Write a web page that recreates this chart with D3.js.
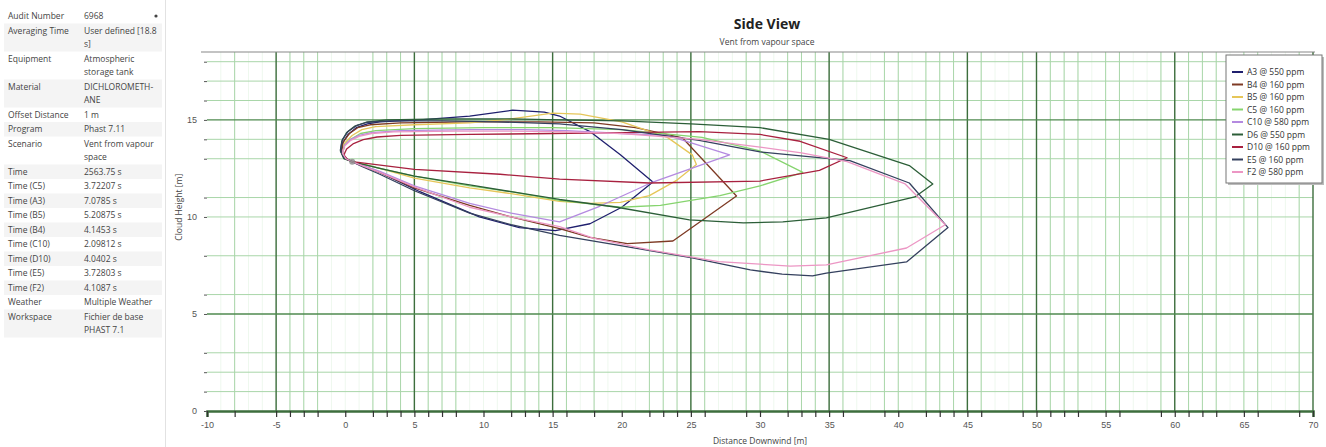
<!DOCTYPE html>
<html>
<head>
<meta charset="utf-8">
<script src="https://cdn.jsdelivr.net/npm/d3@7"></script>
<style>
  html, body { margin: 0; padding: 0; background: #fff; }
  svg { display: block; font-family: "Open Sans", "DejaVu Sans", sans-serif; }
</style>
</head>
<body>
<svg id="chart" width="1326" height="447"></svg>
<script>
// ---- Scenario properties (left panel) ----
const propertyLabels = ["Audit Number", "Averaging Time", "Equipment", "Material", "Offset Distance",
  "Program", "Scenario", "Time", "Time (C5)", "Time (A3)", "Time (B5)", "Time (B4)", "Time (C10)",
  "Time (D10)", "Time (E5)", "Time (F2)", "Weather", "Workspace"];
const propertyValues = [["6968"], ["User defined [18.8", "s]"], ["Atmospheric", "storage tank"],
  ["DICHLOROMETH-", "ANE"], ["1 m"], ["Phast 7.11"], ["Vent from vapour", "space"], ["2563.75 s"],
  ["3.72207 s"], ["7.0785 s"], ["5.20875 s"], ["4.1453 s"], ["2.09812 s"], ["4.0402 s"],
  ["3.72803 s"], ["4.1087 s"], ["Multiple Weather"], ["Fichier de base", "PHAST 7.1"]];

// ---- Axis ticks ----
const xTickLabels = [-10, -5, 0, 5, 10, 15, 20, 25, 30, 35, 40, 45, 50, 55, 60, 65, 70];
const yTickLabels = [0, 5, 10, 15];
const xMajorGrid = [-5, 5, 15, 25, 35, 45, 50, 60, 70];
const xMinorGrid = [-8, -4, -3, -2, 2, 3, 4, 6, 7, 8, 12, 13, 14, 16, 18, 22, 23, 24, 26, 29, 30, 32, 33, 34, 36,
  39, 40, 42, 43, 44, 46, 49, 51, 52, 53, 55, 56, 59, 61, 62, 63, 65, 66, 69];
const yMajorGrid = [5, 15];
const yMinorGrid = [1, 2, 3, 6, 8, 10, 11, 13, 14, 16, 17, 18];

// ---- Cloud outlines: [distance downwind (m), cloud height (m)] ----
const seriesNames = ["A3 @ 550 ppm", "B4 @ 160 ppm", "B5 @ 160 ppm", "C5 @ 160 ppm", "C10 @ 580 ppm",
  "D6 @ 550 ppm", "D10 @ 160 ppm", "E5 @ 160 ppm", "F2 @ 580 ppm"];
const seriesColors = ["#1f1f6e", "#7e3a24", "#e6c659", "#86d46e", "#b48ae0", "#2c5e38", "#a8213f", "#34405e", "#ec96c4"];

const cloudA3 = [[0.5,12.85],[-0.05,13.0],[-0.3,13.35],[-0.2,13.8],[0.2,14.25],[0.8,14.6],[1.6,14.8],[2.5,14.9],
  [5.4,15.0],[9.0,15.2],[12.1,15.5],[14.4,15.4],[15.5,15.2],[17.7,14.4],[19.9,13.2],[22.25,11.8],[20.0,10.5],
  [17.7,9.65],[15.2,9.3],[12.6,9.45],[9.7,10.0],[5.4,11.3],[2.5,12.3],[1.2,12.65],[0.5,12.85]];
const cloudB4 = [[0.5,12.85],[0.0,13.0],[-0.25,13.35],[-0.15,13.85],[0.3,14.3],[0.9,14.6],[1.8,14.75],[4,14.85],
  [9,14.9],[14,14.9],[18,14.85],[21,14.6],[24.4,14.07],[28.3,11.08],[23.7,8.76],[20.4,8.62],[17.7,8.95],
  [15.5,9.4],[12,10.0],[9,10.6],[5,11.5],[2.5,12.3],[1.2,12.65],[0.5,12.85]];
const cloudB5 = [[0.5,12.85],[0.05,13.0],[-0.2,13.3],[-0.05,13.8],[0.5,14.2],[1.2,14.5],[2.2,14.65],[5,14.75],
  [9,14.85],[12,15.05],[15,15.35],[17,15.3],[20,14.9],[23.3,14.1],[25.1,13.2],[25.4,12.7],[24,11.9],[22,11.1],
  [19.9,10.75],[17.7,10.7],[15.5,10.8],[12,11.2],[9,11.5],[5,12.0],[2.5,12.5],[0.5,12.85]];
const cloudC5 = [[0.5,12.85],[0.05,13.0],[-0.2,13.25],[-0.05,13.7],[0.4,14.0],[1.1,14.3],[2.2,14.45],[5,14.55],
  [10,14.6],[15,14.6],[20,14.5],[25.8,14.1],[30,13.4],[33.1,12.3],[30,11.6],[27.1,11.1],[22.8,10.6],
  [19.9,10.5],[15.5,10.85],[12,11.3],[9,11.6],[5,12.1],[2.5,12.5],[0.5,12.85]];
const cloudC10 = [[0.5,12.85],[0.05,13.0],[-0.2,13.3],[-0.05,13.7],[0.4,14.0],[1.0,14.2],[1.9,14.35],[4,14.45],
  [9,14.5],[13,14.5],[16,14.45],[20,14.3],[23.3,14.2],[27.8,13.2],[22.25,11.8],[18.4,10.55],[15.5,9.75],
  [12,10.2],[9,10.7],[5,11.6],[2.5,12.35],[0.5,12.85]];
const cloudD6 = [[0.5,12.85],[-0.1,13.0],[-0.35,13.4],[-0.25,13.9],[0.1,14.35],[0.7,14.68],[1.5,14.88],[3,15.0],
  [7,15.05],[12,15.05],[15.5,15.0],[20,14.95],[25,14.8],[30,14.6],[35,14.0],[40.8,12.65],[42.5,11.7],
  [41.2,11.03],[34.8,9.95],[31.65,9.75],[28.8,9.69],[24.9,9.85],[19.65,10.5],[15.5,10.9],[12,11.3],[9,11.65],
  [5,12.1],[2.5,12.5],[0.5,12.85]];
const cloudD10 = [[0.5,12.85],[0.15,12.98],[-0.1,13.2],[0.1,13.5],[0.6,13.78],[1.3,13.98],[2.3,14.12],[4,14.2],
  [9,14.25],[15,14.3],[20,14.35],[25.6,14.4],[30,14.25],[32.9,13.9],[36.3,13.05],[34.3,12.4],[30,11.85],
  [22,11.75],[15.5,11.95],[11.2,12.2],[5,12.45],[0.5,12.85]];
const cloudE5 = [[0.5,12.85],[-0.1,13.05],[-0.35,13.45],[-0.2,14.0],[0.2,14.4],[0.8,14.7],[1.6,14.88],[3.2,14.95],
  [7,14.95],[11,14.9],[15.5,14.8],[20,14.5],[25.6,13.95],[30,13.35],[36.5,12.9],[40.8,11.75],[43.6,9.45],
  [40.6,7.68],[34.8,7.11],[33.8,6.96],[31.6,7.05],[29.3,7.27],[25.1,7.89],[19.6,8.56],[15.5,9.05],[12,9.6],
  [9,10.2],[5,11.35],[2.5,12.2],[1.2,12.6],[0.5,12.85]];
const cloudF2 = [[0.5,12.85],[0.05,13.0],[-0.2,13.28],[-0.05,13.65],[0.4,13.95],[1.0,14.15],[1.9,14.3],[3.5,14.38],
  [8,14.42],[12,14.42],[15.5,14.4],[20,14.3],[25.6,14.0],[30,13.6],[33,13.3],[36.3,12.85],[40.5,11.7],
  [43.4,9.6],[40.6,8.4],[34.8,7.53],[32.2,7.47],[27,7.7],[22,8.3],[18,8.9],[15.5,9.5],[12,10.0],[9,10.5],
  [5,11.55],[2.5,12.3],[1.2,12.65],[0.5,12.85]];
const cloudOutlines = [cloudA3, cloudB4, cloudB5, cloudC5, cloudC10, cloudD6, cloudD10, cloudE5, cloudF2];
const sourcePoint = [0.5, 12.85];

const svg = d3.select("#chart");

// ---- Left properties panel ----
const panel = svg.append("g").attr("class", "properties");
let rowY = 10;
propertyLabels.forEach((label, i) => {
  const lines = propertyValues[i];
  const h = 13.5 * lines.length + 1;
  if (i % 2 === 1) {
    panel.append("rect").attr("x", 4).attr("y", rowY - 1).attr("width", 158).attr("height", h)
      .attr("fill", "#f4f4f4");
  }
  panel.append("text").attr("x", 8).attr("y", rowY + 9).attr("font-size", 8.5).attr("fill", "#444")
    .text(label);
  lines.forEach((v, k) => {
    panel.append("text").attr("x", 84).attr("y", rowY + 9 + k * 13).attr("font-size", 8.5).attr("fill", "#444")
      .text(v);
  });
  rowY += h;
});
panel.append("circle").attr("cx", 156).attr("cy", 16).attr("r", 1.6).attr("fill", "#444");
panel.append("line").attr("x1", 165.5).attr("x2", 165.5).attr("y1", 0).attr("y2", 447)
  .attr("stroke", "#e2e2e2");

// ---- Plot ----
const x = d3.scaleLinear().domain([-10, 70]).range([207, 1313]);
const y = d3.scaleLinear().domain([0, 18.5]).range([411, 52]);

const grid = svg.append("g").attr("class", "grid");
// faint lines at every metre
d3.range(-9, 70).forEach(v => {
  grid.append("line").attr("x1", x(v)).attr("x2", x(v)).attr("y1", y(18.5)).attr("y2", y(0))
    .attr("stroke", "#eef8ee").attr("stroke-width", 1);
});
xMinorGrid.forEach(v => {
  grid.append("line").attr("x1", x(v)).attr("x2", x(v)).attr("y1", y(18.5)).attr("y2", y(0))
    .attr("stroke", "#a9d6a9").attr("stroke-width", 1);
});
yMinorGrid.forEach(v => {
  grid.append("line").attr("x1", x(-10)).attr("x2", x(70)).attr("y1", y(v)).attr("y2", y(v))
    .attr("stroke", "#a9d6a9").attr("stroke-width", 1);
});
xMajorGrid.forEach(v => {
  grid.append("line").attr("x1", x(v)).attr("x2", x(v)).attr("y1", y(18.5)).attr("y2", y(0))
    .attr("stroke", "#3d6e3d").attr("stroke-width", 1.4);
});
yMajorGrid.forEach(v => {
  grid.append("line").attr("x1", x(-10)).attr("x2", x(70)).attr("y1", y(v)).attr("y2", y(v))
    .attr("stroke", "#4f8a4f").attr("stroke-width", 1.4);
});
// top border
svg.append("line").attr("x1", x(-10) - 6).attr("x2", x(70) + 2).attr("y1", y(18.5)).attr("y2", y(18.5))
  .attr("stroke", "#888").attr("stroke-width", 1.2);

// axes
const xTickValues = Array.from(new Set(xTickLabels.concat(xMinorGrid))).sort((a, b) => a - b);
const xAxis = d3.axisBottom(x)
  .tickValues(xTickValues)
  .tickSize(6)
  .tickFormat(d => xTickLabels.includes(d) ? d : "");
const gx = svg.append("g").attr("transform", `translate(0,${y(0)})`).call(xAxis);
gx.select(".domain").attr("stroke", "#3d6e3d").attr("stroke-width", 2.5);
gx.selectAll(".tick line").attr("stroke", "#333").attr("stroke-width", 1.2);
gx.selectAll(".tick text").attr("font-size", 9).attr("fill", "#555").attr("dy", "0.9em");

const yTickValues = Array.from(new Set(yTickLabels.concat(yMinorGrid))).sort((a, b) => a - b);
const yAxis = d3.axisLeft(y)
  .tickValues(yTickValues)
  .tickSize(3)
  .tickFormat(d => yTickLabels.includes(d) ? d : "");
const gy = svg.append("g").attr("transform", `translate(${x(-10)},0)`).call(yAxis);
gy.select(".domain").remove();
gy.selectAll(".tick line").attr("stroke", "#555");
gy.selectAll(".tick text").attr("font-size", 9).attr("fill", "#555").attr("dx", "-4");

// titles
svg.append("text").attr("x", 767).attr("y", 29).attr("text-anchor", "middle")
  .attr("font-size", 14).attr("font-weight", "bold").attr("fill", "#222").text("Side View");
svg.append("text").attr("x", 767).attr("y", 45).attr("text-anchor", "middle")
  .attr("font-size", 8.5).attr("fill", "#444").text("Vent from vapour space");
svg.append("text").attr("x", 760).attr("y", 444).attr("text-anchor", "middle")
  .attr("font-size", 8.5).attr("fill", "#444").text("Distance Downwind [m]");
svg.append("text").attr("transform", `translate(182,${y(10.5)}) rotate(-90)`).attr("text-anchor", "middle")
  .attr("font-size", 8.5).attr("fill", "#444").text("Cloud Height [m]");

// cloud outlines
svg.append("clipPath").attr("id", "plotClip").append("rect")
  .attr("x", x(-10)).attr("y", y(18.5)).attr("width", x(70) - x(-10)).attr("height", y(0) - y(18.5));
const line = d3.line().x(d => x(d[0])).y(d => y(d[1])).curve(d3.curveLinear);
const clouds = svg.append("g").attr("clip-path", "url(#plotClip)");
cloudOutlines.forEach((pts, i) => {
  clouds.append("path").attr("d", line(pts)).attr("fill", "none")
    .attr("stroke", seriesColors[i]).attr("stroke-width", 1.3).attr("stroke-linejoin", "round");
});
clouds.append("circle").attr("cx", x(sourcePoint[0])).attr("cy", y(sourcePoint[1])).attr("r", 3)
  .attr("fill", "#8a8a8a").attr("opacity", 0.8);

// legend
const legend = svg.append("g").attr("class", "legend");
legend.append("rect").attr("x", 1228).attr("y", 57).attr("width", 96).attr("height", 128).attr("fill", "#bbb");
legend.append("rect").attr("x", 1226).attr("y", 55).attr("width", 96).attr("height", 128)
  .attr("fill", "#fff").attr("stroke", "#777");
seriesNames.forEach((name, i) => {
  const ly = 72 + i * 12.5;
  legend.append("line").attr("x1", 1232).attr("x2", 1243).attr("y1", ly).attr("y2", ly)
    .attr("stroke", seriesColors[i]).attr("stroke-width", 2);
  legend.append("text").attr("x", 1247).attr("y", ly + 3).attr("font-size", 8.5).attr("fill", "#333").text(name);
});
</script>
</body>
</html>
